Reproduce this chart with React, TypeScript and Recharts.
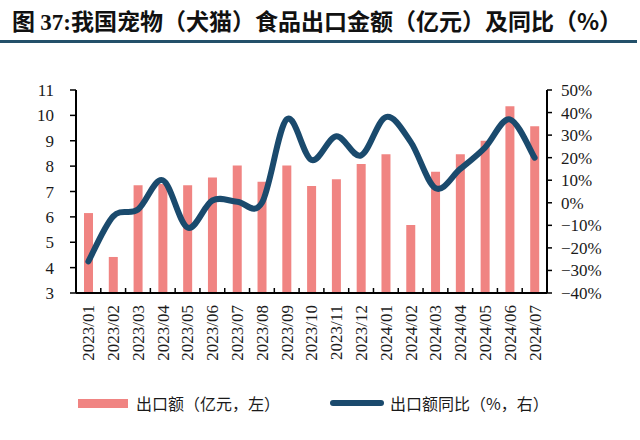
import React from "react";
import { ComposedChart, Bar, Line, XAxis, YAxis } from "recharts";

const categories = [
  "2023/01", "2023/02", "2023/03", "2023/04", "2023/05", "2023/06", "2023/07",
  "2023/08", "2023/09", "2023/10", "2023/11", "2023/12", "2024/01", "2024/02",
  "2024/03", "2024/04", "2024/05", "2024/06", "2024/07",
];
const exportValue = [
  6.15, 4.42, 7.25, 7.3, 7.25, 7.55, 8.02, 7.38, 8.02, 7.22, 7.48, 8.08, 8.47,
  5.68, 7.78, 8.47, 9.0, 10.36, 9.57,
];
const yoyValue = [
  -26, -6, -3, 10, -11, 1, 0.5, 0, 37, 19, 29.5, 21, 38, 27, 6.5, 15, 24.5, 37, 20,
];
const leftTicks = [3, 4, 5, 6, 7, 8, 9, 10, 11];
const rightTicks = [-40, -30, -20, -10, 0, 10, 20, 30, 40, 50];

const data = categories.map((c, i) => ({ month: c, value: exportValue[i], yoy: yoyValue[i] }));

const BAR_COLOR = "#F08482";
const LINE_COLOR = "#1A4A6D";
const SERIF = '"Liberation Serif", "DejaVu Serif", serif';
const CJK = '"Noto Sans CJK SC", "Noto Sans", sans-serif';

// Excel-like smoothed line (Catmull-Rom Bezier) as a d3-style curve factory
const smoothCurve = (context: any) => {
  let pts: number[][] = [];
  return {
    areaStart() {},
    areaEnd() {},
    lineStart() {
      pts = [];
    },
    point(x: number, y: number) {
      pts.push([+x, +y]);
    },
    lineEnd() {
      const n = pts.length;
      if (!n) return;
      context.moveTo(pts[0][0], pts[0][1]);
      for (let i = 0; i < n - 1; i++) {
        const p0 = pts[i - 1] || pts[i];
        const p1 = pts[i];
        const p2 = pts[i + 1];
        const p3 = pts[i + 2] || p2;
        context.bezierCurveTo(
          p1[0] + (p2[0] - p0[0]) / 6,
          p1[1] + (p2[1] - p0[1]) / 6,
          p2[0] - (p3[0] - p1[0]) / 6,
          p2[1] - (p3[1] - p1[1]) / 6,
          p2[0],
          p2[1]
        );
      }
    },
  };
};

const XTick = (props: any) => {
  const { x, y, payload, index } = props;
  const half = payload && payload.offset ? payload.offset : 12.4;
  const ty = y + 12;
  return (
    <g>
      <line x1={x - half} x2={x - half} y1={y} y2={y - 5} stroke="#000" strokeWidth={1.5} />
      {index === categories.length - 1 && (
        <line x1={x + half} x2={x + half} y1={y} y2={y - 5} stroke="#000" strokeWidth={1.5} />
      )}
      <text
        x={x}
        y={ty}
        transform={`rotate(-90 ${x} ${ty})`}
        textAnchor="end"
        dy="0.35em"
        fontSize={17}
        fontFamily={SERIF}
        fill="#1a1a1a"
      >
        {payload.value}
      </text>
    </g>
  );
};

const pctFmt = (v: number) => (v < 0 ? "\u2212" + Math.abs(v) : String(v)) + "%";

export default function App() {
  return (
    <div style={{ position: "absolute", left: 0, top: 0, width: 640, height: 440, background: "#fff" }}>
      <div
        style={{
          position: "absolute",
          left: 12,
          top: 6,
          fontFamily: CJK,
          fontWeight: 700,
          fontSize: 23,
          lineHeight: "28px",
          color: "#111",
          whiteSpace: "nowrap",
        }}
      >
        图 <span style={{ fontFamily: SERIF, fontWeight: 700 }}>37:</span>我国宠物（犬猫）食品出口金额（亿元）及同比（%）
      </div>
      <div style={{ position: "absolute", left: 0, top: 40, width: 637, height: 3, background: "#23506A" }} />
      <ComposedChart
        width={640}
        height={440}
        data={data}
        margin={{ top: 90, right: 0, bottom: 0, left: 0 }}
        barCategoryGap={0}
      >
        <XAxis
          dataKey="month"
          xAxisId={0}
          height={147}
          interval={0}
          tickLine={false}
          tickSize={0}
          tickMargin={0}
          axisLine={{ stroke: "#000", strokeWidth: 2 }}
          tick={<XTick />}
        />
        <YAxis
          yAxisId="left"
          orientation="left"
          width={76}
          domain={[3, 11]}
          ticks={leftTicks}
          interval={0}
          tickSize={6}
          tickMargin={16}
          axisLine={{ stroke: "#000", strokeWidth: 2 }}
          tickLine={{ stroke: "#000", strokeWidth: 1.5 }}
          tick={{ fontSize: 17, fontFamily: SERIF, fill: "#1a1a1a" }}
        />
        <YAxis
          yAxisId="right"
          orientation="right"
          width={93}
          domain={[-40, 50]}
          ticks={rightTicks}
          interval={0}
          tickSize={5}
          tickMargin={9}
          tickFormatter={pctFmt}
          axisLine={{ stroke: "#000", strokeWidth: 2 }}
          tickLine={{ stroke: "#000", strokeWidth: 1.5 }}
          tick={{ fontSize: 17, fontFamily: SERIF, fill: "#1a1a1a", textAnchor: "start" }}
        />
        <Bar yAxisId="left" dataKey="value" fill={BAR_COLOR} barSize={9} isAnimationActive={false} />
        <Line
          yAxisId="right"
          dataKey="yoy"
          type={smoothCurve as any}
          stroke={LINE_COLOR}
          strokeWidth={6}
          strokeLinecap="round"
          strokeLinejoin="round"
          dot={false}
          activeDot={false}
          isAnimationActive={false}
        />
      </ComposedChart>
      <div style={{ position: "absolute", left: 78, top: 399, width: 50, height: 9, background: BAR_COLOR }} />
      <div
        style={{
          position: "absolute",
          left: 136,
          top: 392,
          fontFamily: CJK,
          fontSize: 16,
          lineHeight: "22px",
          color: "#1a1a1a",
          whiteSpace: "nowrap",
        }}
      >
        出口额（亿元，左）
      </div>
      <div
        style={{
          position: "absolute",
          left: 330,
          top: 400,
          width: 54,
          height: 6,
          borderRadius: 3,
          background: LINE_COLOR,
        }}
      />
      <div
        style={{
          position: "absolute",
          left: 390,
          top: 392,
          fontFamily: CJK,
          fontSize: 16,
          lineHeight: "22px",
          color: "#1a1a1a",
          whiteSpace: "nowrap",
        }}
      >
        出口额同比（%，右）
      </div>
    </div>
  );
}
